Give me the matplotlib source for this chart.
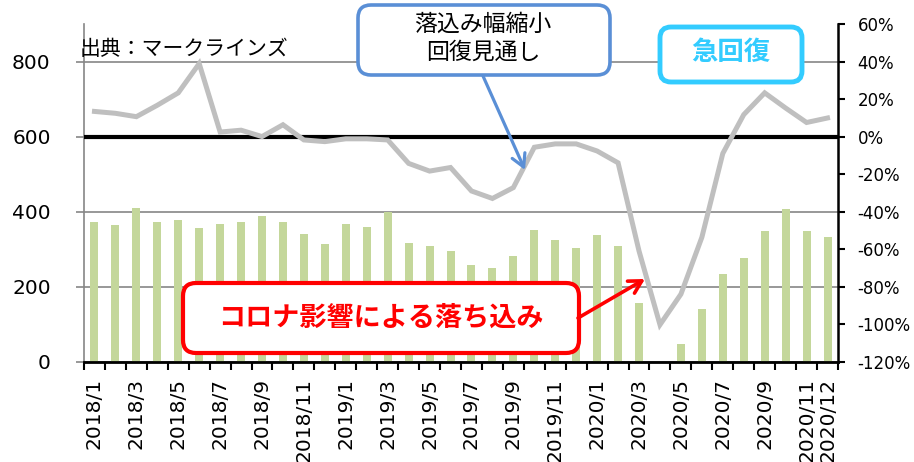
import matplotlib.pyplot as plt
import numpy as np
from matplotlib.patches import FancyBboxPatch, FancyArrowPatch
from matplotlib.transforms import IdentityTransform

plt.rcParams['font.family'] = ['DejaVu Sans', 'Noto Sans CJK JP']
JP = ['Noto Sans CJK JP', 'DejaVu Sans']

# data
months = ['2018/1', '2018/2', '2018/3', '2018/4', '2018/5', '2018/6',
          '2018/7', '2018/8', '2018/9', '2018/10', '2018/11', '2018/12',
          '2019/1', '2019/2', '2019/3', '2019/4', '2019/5', '2019/6',
          '2019/7', '2019/8', '2019/9', '2019/10', '2019/11', '2019/12',
          '2020/1', '2020/2', '2020/3', '2020/4', '2020/5', '2020/6',
          '2020/7', '2020/8', '2020/9', '2020/10', '2020/11', '2020/12']
sales = [371, 364, 409, 371, 378, 355, 368, 372, 389, 371, 339, 315,
         368, 359, 400, 317, 309, 296, 258, 249, 282, 351, 325, 302,
         338, 309, 157, 0, 47, 140, 234, 277, 347, 406, 349, 333]
yoy = [13.4, 12.4, 10.6, 16.7, 23.3, 38.9, 2.4, 3.4, 0.0, 6.3, -1.8, -2.7,
       -1.2, -1.2, -1.8, -14.3, -18.4, -16.5, -29.0, -33.0, -27.2, -5.7, -3.9, -3.9,
       -7.7, -14.0, -61.0, -100.3, -84.0, -53.7, -9.0, 11.7, 23.3, 15.2, 7.5, 9.9]
shown_labels = ['2018/1', '2018/3', '2018/5', '2018/7', '2018/9', '2018/11',
                '2019/1', '2019/3', '2019/5', '2019/7', '2019/9', '2019/11',
                '2020/1', '2020/3', '2020/5', '2020/7', '2020/9', '2020/11', '2020/12']

W, H = 914, 462
fig = plt.figure(figsize=(W / 100, H / 100), dpi=100)
ax = fig.add_axes([84 / W, 1 - 361.7 / H, (838 - 84) / W, (361.7 - 24) / H])
ax2 = ax.twinx()

x = np.arange(len(months))
ax.bar(x, sales, width=0.38, color='#C4D79B', zorder=2)
ax.set_xlim(-0.5, len(months) - 0.5)
ax.set_ylim(0, 900)
ax.set_yticks([0, 200, 400, 600, 800])
ax.set_axisbelow(True)
ax.yaxis.grid(True, color='#868686', lw=1.2)

tick_pos = [months.index(m) for m in shown_labels]
ax.set_xticks(tick_pos)
ax.set_xticklabels(shown_labels, rotation=90, fontsize=14.5)
ax.set_xticks(np.arange(-0.5, len(months)), minor=True)
ax.tick_params(axis='x', which='major', length=0, pad=12)
ax.tick_params(axis='x', which='minor', length=6, width=1.5, color='black')
ax.tick_params(axis='y', length=6, width=1.2, color='#868686', labelsize=14.5, pad=18)

for s in ['top', 'right']:
    ax.spines[s].set_visible(False)
ax.spines['left'].set_color('#868686')
ax.spines['left'].set_linewidth(1.2)
ax.spines['bottom'].set_linewidth(2)

ax2.axhline(0, color='black', lw=3, zorder=2)
ax2.plot(x, yoy, color='#BFBFBF', lw=3.6, zorder=3, solid_joinstyle='miter')
ax2.set_ylim(-120, 60)
ax2.set_yticks(np.arange(-120, 61, 20))
ax2.set_yticklabels([f'{v}%' for v in range(-120, 61, 20)])
ax2.tick_params(axis='y', length=5, width=1.5, color='black', labelsize=12, pad=9)
for s in ['top', 'left', 'bottom']:
    ax2.spines[s].set_visible(False)
ax2.spines['right'].set_linewidth(1.8)


def box(x0, y0, x1, y1, color, lw, r=13):
    p = FancyBboxPatch((x0, H - y1), x1 - x0, y1 - y0,
                       boxstyle=f'round,pad=0,rounding_size={r}',
                       transform=IdentityTransform(), facecolor='white',
                       edgecolor=color, lw=lw, zorder=5)
    fig.patches.append(p)


def arrow(x0, y0, x1, y1, color, lw):
    a = FancyArrowPatch((x0, H - y0), (x1, H - y1), transform=IdentityTransform(),
                        arrowstyle='->,head_length=9,head_width=5',
                        color=color, lw=lw, zorder=6, shrinkA=0, shrinkB=0)
    fig.patches.append(a)


def label(xp, yp, s, **kw):
    fig.text(xp / W, 1 - yp / H, s, family=JP, ha='center', va='center', zorder=7, **kw)


fig.text(80 / W, 1 - 49 / H, '出典：マークラインズ', family=JP, fontsize=15,
         ha='left', va='center')

# blue box
arrow(483, 76, 525, 170, '#5A8FD6', 2.3)
box(358, 5, 610, 75, '#5A8FD6', 2.6)
label(483, 24, '落込み幅縮小', fontsize=16.5)
label(483, 52, '回復見通し', fontsize=16.5)

# cyan box
box(660, 27, 802, 82, '#33CCFF', 3.5, r=11)
label(731, 52, '急回復', fontsize=19, color='#33CCFF', fontweight='bold')

# red box
arrow(578, 318, 645, 279, '#FF0000', 2.6)
box(183, 283, 579, 353, '#FF0000', 3)
label(381, 318, 'コロナ影響による落ち込み', fontsize=19.5, color='#FF0000', fontweight='bold')

fig.savefig('out.png', dpi=100)
